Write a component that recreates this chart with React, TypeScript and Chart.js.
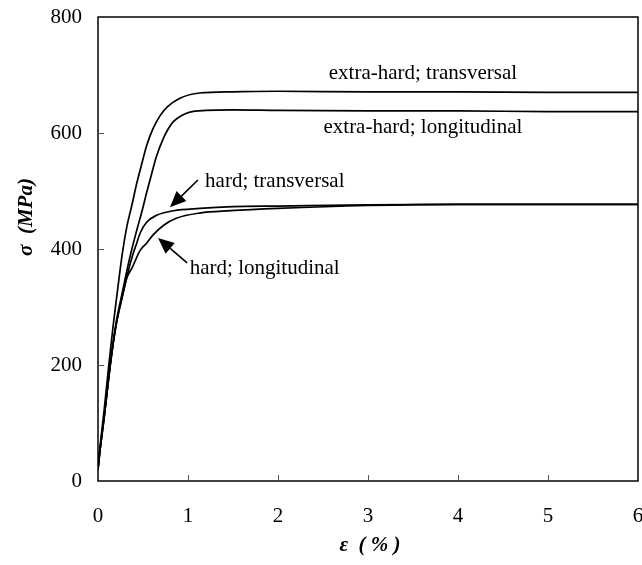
import React, { useEffect, useRef } from "react";
import { Chart, registerables } from "chart.js";

Chart.register(...registerables);

// Strain (%) and stress (MPa)
const etStrain = [0, 0.02, 0.07, 0.12, 0.17, 0.21, 0.27, 0.32, 0.38, 0.43, 0.49, 0.54, 0.61, 0.69, 0.77, 0.91, 1.13, 1.5, 2, 3, 4, 5, 6];
const etStress = [20, 55, 125, 200, 270, 320, 392, 438, 478, 513, 549, 578, 607, 630, 645, 660, 669, 671, 672, 671, 671, 670, 670];

const elStrain = [0, 0.02, 0.07, 0.14, 0.2, 0.27, 0.32, 0.37, 0.43, 0.49, 0.54, 0.6, 0.65, 0.73, 0.78, 0.84, 0.93, 1.02, 1.2, 1.5, 2, 3, 4, 5, 6];
const elStress = [20, 50, 112, 205, 272, 325, 362, 396, 432, 466, 497, 532, 560, 592, 607, 620, 630, 636, 639, 640, 639, 638, 638, 637, 637];

const htStrain = [0, 0.02, 0.07, 0.14, 0.2, 0.27, 0.31, 0.35, 0.39, 0.43, 0.47, 0.54, 0.65, 0.84, 1.13, 1.5, 2, 3, 4, 5, 6];
const htStress = [20, 50, 112, 205, 268, 318, 345, 370, 392, 410, 428, 446, 458, 466, 470, 473, 474, 476, 477, 477, 477];

const hlStrain = [0, 0.02, 0.07, 0.14, 0.2, 0.27, 0.32, 0.38, 0.47, 0.54, 0.61, 0.73, 0.87, 1.13, 1.47, 2, 3, 4, 5, 6];
const hlStress = [20, 50, 112, 205, 268, 318, 350, 368, 398, 410, 424, 441, 453, 462, 466, 470, 475, 477, 477, 477];

const xTicks = [0, 1, 2, 3, 4, 5, 6];
const yTicks = [0, 200, 400, 600, 800];

const labelTexts = ["extra-hard; transversal", "extra-hard; longitudinal", "hard; transversal", "hard; longitudinal"];
const xTitle = "ε  ( % )";
const yTitle = "σ  (MPa)";

const SERIF = '"Liberation Serif", "Times New Roman", serif';

function toPoints(xs: number[], ys: number[]) {
  return xs.map((x, i) => ({ x, y: ys[i] }));
}

const decorPlugin = {
  id: "decor",
  afterDraw(chart: any) {
    const { ctx, chartArea: a, scales } = chart;
    const xs = scales.x;
    const ys = scales.y;
    ctx.save();
    // frame
    ctx.strokeStyle = "#000";
    ctx.lineWidth = 1.5;
    ctx.strokeRect(a.left, a.top, a.right - a.left, a.bottom - a.top);
    // inward ticks
    ctx.strokeStyle = "#555";
    ctx.lineWidth = 1;
    xTicks.slice(1, -1).forEach((v) => {
      const px = Math.round(xs.getPixelForValue(v)) + 0.5;
      ctx.beginPath();
      ctx.moveTo(px, a.bottom);
      ctx.lineTo(px, a.bottom - 6);
      ctx.stroke();
    });
    yTicks.slice(1, -1).forEach((v) => {
      const py = Math.round(ys.getPixelForValue(v)) + 0.5;
      ctx.beginPath();
      ctx.moveTo(a.left, py);
      ctx.lineTo(a.left + 6, py);
      ctx.stroke();
    });

    // curve labels
    ctx.fillStyle = "#000";
    ctx.font = `21px ${SERIF}`;
    ctx.textBaseline = "middle";
    ctx.textAlign = "center";
    ctx.fillText(labelTexts[0], xs.getPixelForValue(3.61), ys.getPixelForValue(703));
    ctx.fillText(labelTexts[1], xs.getPixelForValue(3.61), ys.getPixelForValue(609));
    ctx.textAlign = "left";
    ctx.fillText(labelTexts[2], xs.getPixelForValue(1.19), ys.getPixelForValue(517));
    ctx.fillText(labelTexts[3], xs.getPixelForValue(1.02), ys.getPixelForValue(367));

    // arrows
    const arrow = (x0: number, y0: number, x1: number, y1: number) => {
      const sx = xs.getPixelForValue(x0), sy = ys.getPixelForValue(y0);
      const ex = xs.getPixelForValue(x1), ey = ys.getPixelForValue(y1);
      const ang = Math.atan2(ey - sy, ex - sx);
      const hl = 16, hw = 7;
      const bx = ex - hl * Math.cos(ang), by = ey - hl * Math.sin(ang);
      ctx.strokeStyle = "#000";
      ctx.lineWidth = 1.6;
      ctx.beginPath();
      ctx.moveTo(sx, sy);
      ctx.lineTo(bx, by);
      ctx.stroke();
      ctx.beginPath();
      ctx.moveTo(ex, ey);
      ctx.lineTo(bx + hw * Math.sin(ang), by - hw * Math.cos(ang));
      ctx.lineTo(bx - hw * Math.sin(ang), by + hw * Math.cos(ang));
      ctx.closePath();
      ctx.fill();
    };
    arrow(1.11, 519, 0.8, 472);
    arrow(0.99, 376, 0.667, 419);

    // axis titles
    ctx.font = `italic bold 21px ${SERIF}`;
    ctx.textAlign = "center";
    ctx.textBaseline = "middle";
    ctx.fillText(xTitle, (a.left + a.right) / 2 + 2, 546);
    ctx.translate(27, 217);
    ctx.rotate(-Math.PI / 2);
    ctx.fillText(yTitle, 0, 0);
    ctx.restore();
  },
};

export default function App() {
  const ref = useRef<HTMLCanvasElement | null>(null);
  useEffect(() => {
    document.body.style.margin = "0";
    const canvas = ref.current!;
    const line = (xs: number[], ys: number[]) => ({
      data: toPoints(xs, ys),
      borderColor: "#000",
      borderWidth: 1.7,
      pointRadius: 0,
      fill: false,
      cubicInterpolationMode: "monotone" as const,
    });
    const chart = new Chart(canvas, {
      type: "line",
      data: {
        datasets: [
          { label: labelTexts[0], ...line(etStrain, etStress) },
          { label: labelTexts[1], ...line(elStrain, elStress) },
          { label: labelTexts[2], ...line(htStrain, htStress) },
          { label: labelTexts[3], ...line(hlStrain, hlStress) },
        ],
      },
      options: {
        responsive: false,
        animation: false,
        layout: { padding: { top: 17, right: 4, left: 0, bottom: 0 } },
        plugins: { legend: { display: false }, tooltip: { enabled: false } },
        scales: {
          x: {
            type: "linear",
            min: 0,
            max: 6,
            afterBuildTicks: (s: any) => { s.ticks = xTicks.map((v) => ({ value: v })); },
            afterFit: (s: any) => { s.height = 84; s.paddingLeft = 0; s.paddingRight = 0; s.paddingTop = 0; s.paddingBottom = 0; },
            grid: { display: false, drawTicks: false },
            border: { display: false },
            ticks: { color: "#000", padding: 23, font: { family: SERIF, size: 21 } },
          },
          y: {
            type: "linear",
            min: 0,
            max: 800,
            afterBuildTicks: (s: any) => { s.ticks = yTicks.map((v) => ({ value: v })); },
            afterFit: (s: any) => { s.width = 98; s.paddingLeft = 0; s.paddingRight = 0; s.paddingTop = 0; s.paddingBottom = 0; },
            grid: { display: false, drawTicks: false },
            border: { display: false },
            ticks: { color: "#000", padding: 16, font: { family: SERIF, size: 21 } },
          },
        },
      },
      plugins: [decorPlugin],
    });
    return () => chart.destroy();
  }, []);
  return (
    <div style={{ width: 642, height: 565 }}>
      <canvas ref={ref} width={642} height={565} />
    </div>
  );
}
